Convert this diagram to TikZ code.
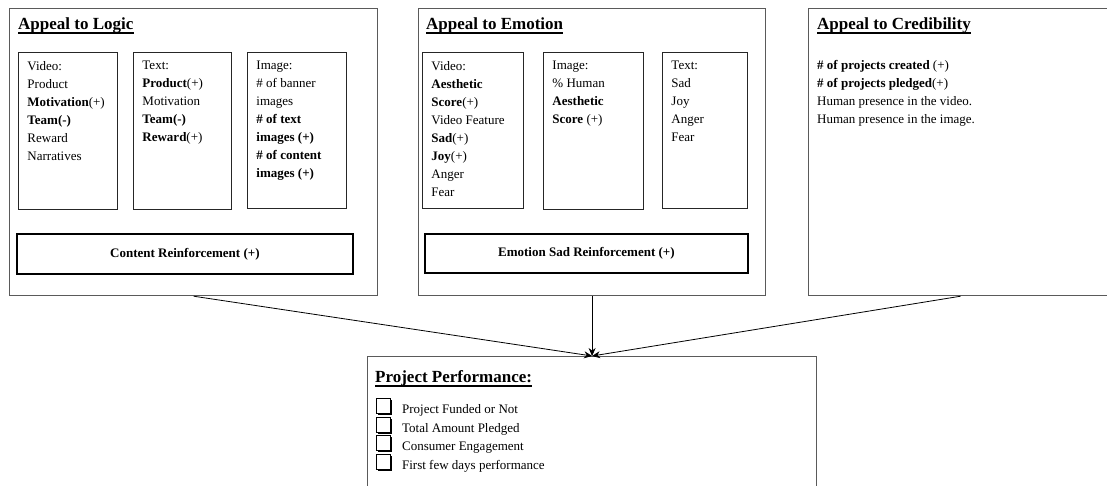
\documentclass[tikz,border=0pt]{standalone}
\usepackage{fontspec}
\setmainfont{Liberation Serif}
\usepackage{xcolor}
\usetikzlibrary{arrows.meta,positioning,shadows}
\definecolor{framegray}{HTML}{5A5A5A}
\newcommand{\bodyfont}{\fontsize{13}{18}\selectfont}
\newcommand{\headfont}{\fontsize{17}{20}\selectfont\bfseries}

\begin{document}
\begin{tikzpicture}[x=1pt,y=-1pt,
    panel/.style={draw=framegray,line width=1.2pt,inner sep=0pt,anchor=north west},
    cell/.style={draw=black!85,line width=0.9pt,inner xsep=9pt,inner ysep=0pt,anchor=north west,font=\bodyfont},
    bar/.style={draw,line width=1.8pt,inner sep=0pt,anchor=north west,font=\bodyfont\bfseries},
    head/.style={inner sep=0pt,anchor=base west,font=\headfont},
    chk/.style={draw,line width=0.9pt,minimum width=14pt,minimum height=15pt,inner sep=0pt,anchor=north west,fill=white,
                drop shadow={shadow xshift=2pt,shadow yshift=-2pt,fill=black,opacity=1}},
    item/.style={inner sep=0pt,anchor=base west,font=\bodyfont},
    arr/.style={-{Stealth[length=8pt,width=7pt]},line width=0.8pt}]
        \useasboundingbox (0,0) rectangle (1107,485);
        \clip (0,0) rectangle (1107,485);

        \node[panel,minimum width=368pt,minimum height=287pt] (logic) at (9,8)    {};
        \node[panel,minimum width=347pt,minimum height=287pt] (emo)   at (418,8)  {};
        \node[panel,minimum width=304pt,minimum height=287pt] (cred)  at (808,8)  {};
        \node[panel,minimum width=449pt,minimum height=160pt] (perf)  at (367,356) {};

        \node[head] (hlogic) at (18,29)   {Appeal to Logic};
        \node[head] (hemo)   at (426,29)  {Appeal to Emotion};
        \node[head] (hcred)  at (817,29)  {Appeal to Credibility};
        \node[head] (hperf)  at (375,382) {Project Performance:};
        \foreach \hd in {hlogic,hemo,hcred,hperf}
            \draw[line width=1.5pt] ([yshift=-4pt]\hd.base west) -- ([yshift=-4pt]\hd.base east);

        \node[cell] (lvideo) at (18,52)  {\parbox[t][157pt][t]{81pt}{\raggedright\vspace*{9pt}Video:\\Product\\\textbf{Motivation}(+)\\\textbf{Team(-)}\\Reward\\Narratives}};
        \node[cell] (ltext)  at (133,52) {\parbox[t][157pt][t]{80pt}{\raggedright\vspace*{9pt}Text:\\\textbf{Product}(+)\\Motivation\\\textbf{Team(-)}\\\textbf{Reward}(+)}};
        \node[cell] (limage) at (247,52) {\parbox[t][156pt][t]{81pt}{\raggedright\vspace*{9pt}Image:\\\# of banner\\images\\\textbf{\# of text}\\\textbf{images (+)}\\\textbf{\# of content}\\\textbf{images (+)}}};
        \node[bar,minimum width=336pt,minimum height=40pt] (lbar) at (16,233) {Content Reinforcement (+)};

        \node[cell] (evideo) at (422,52) {\parbox[t][156pt][t]{83pt}{\raggedright\vspace*{9pt}Video:\\\textbf{Aesthetic}\\\textbf{Score}(+)\\Video Feature\\\textbf{Sad}(+)\\\textbf{Joy}(+)\\Anger\\Fear}};
        \node[cell] (eimage) at (543,52) {\parbox[t][157pt][t]{82pt}{\raggedright\vspace*{9pt}Image:\\\% Human\\\textbf{Aesthetic}\\\textbf{Score} (+)}};
        \node[cell] (etext)  at (662,52) {\parbox[t][156pt][t]{67pt}{\raggedright\vspace*{9pt}Text:\\Sad\\Joy\\Anger\\Fear}};
        \node[bar,minimum width=323pt,minimum height=39pt] (ebar) at (424,233) {Emotion Sad Reinforcement (+)};

        \node[item,anchor=north west,align=left] (credlist) at (817,60)
            {\textbf{\# of projects created} (+)\\\textbf{\# of projects pledged}(+)\\Human presence in the video.\\Human presence in the image.};

        \node[chk] (c1) at (376,398)   {};
        \node[chk] (c2) at (376,416.5) {};
        \node[chk] (c3) at (376,435)   {};
        \node[chk] (c4) at (376,453.5) {};
        \node[item,right=11pt of c1.south east,anchor=base west] (p1) {Project Funded or Not};
        \node[item,right=11pt of c2.south east,anchor=base west] (p2) {Total Amount Pledged};
        \node[item,right=11pt of c3.south east,anchor=base west] (p3) {Consumer Engagement};
        \node[item,right=11pt of c4.south east,anchor=base west] (p4) {First few days performance};

        \draw[arr] (logic.south) -- (perf.north);
        \draw[arr] (emo.south)   -- (perf.north);
        \draw[arr] (cred.south)  -- (perf.north);
    \end{tikzpicture}
\end{document}
